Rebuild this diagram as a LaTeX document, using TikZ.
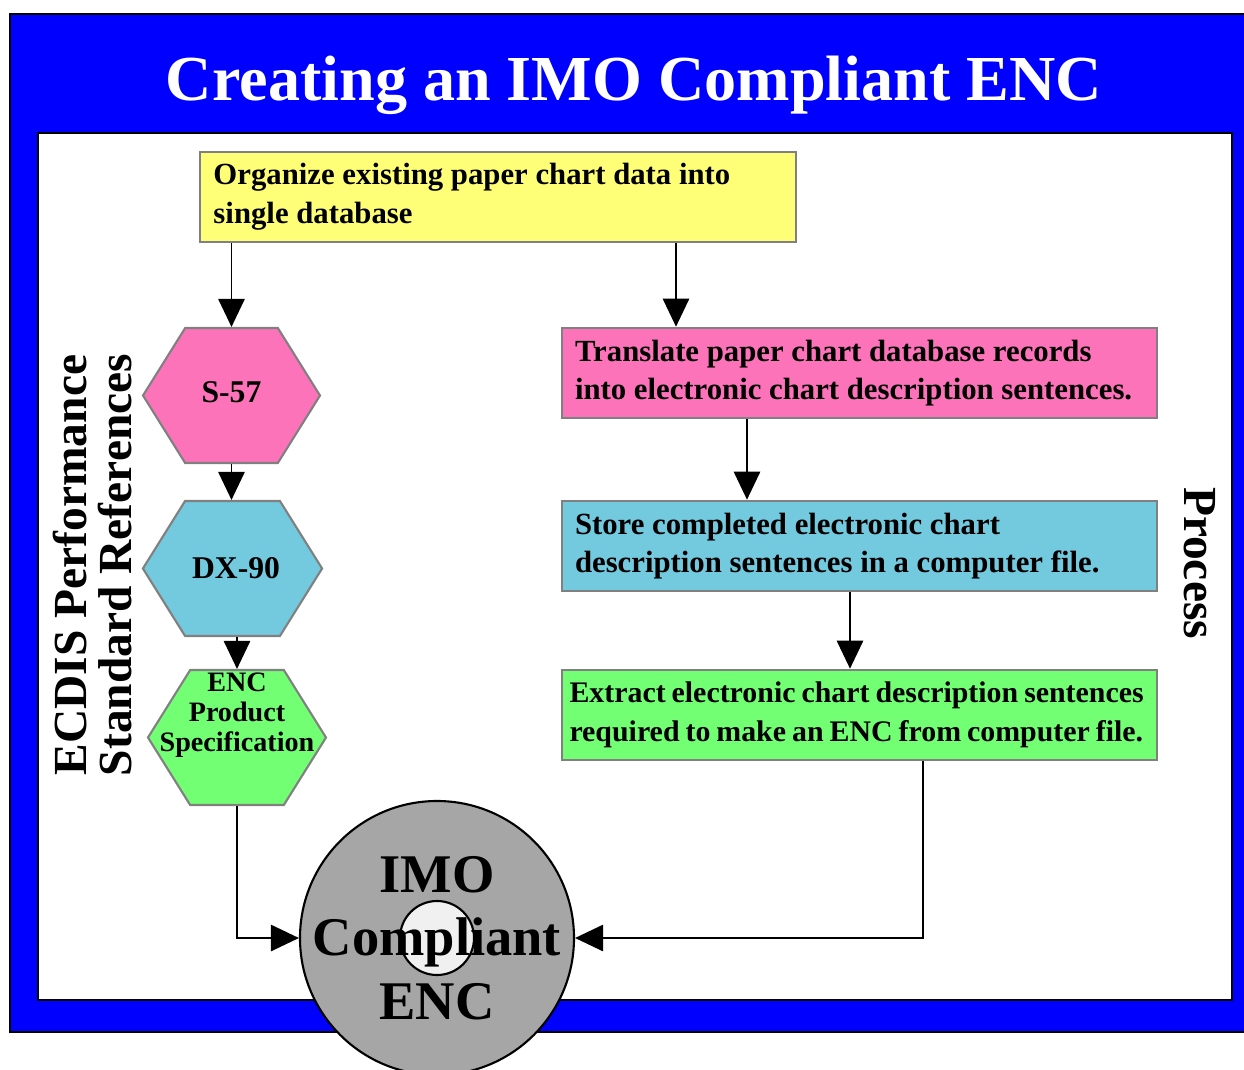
\documentclass[tikz,border=0pt]{standalone}
\usepackage{fontspec}
\setmainfont{Liberation Serif}
\usetikzlibrary{arrows.meta,shapes.symbols}

\definecolor{frameblue}{RGB}{0,0,255}
\definecolor{boxyellow}{RGB}{255,255,119}
\definecolor{boxpink}{RGB}{252,115,185}
\definecolor{boxblue}{RGB}{115,201,222}
\definecolor{boxgreen}{RGB}{115,255,115}
\definecolor{discgray}{RGB}{166,166,166}
\definecolor{holegray}{RGB}{240,240,240}
\definecolor{edgegray}{RGB}{128,128,128}

\newcommand{\nohyph}{\hyphenpenalty=10000\relax}
\newcommand{\tightspace}{\spaceskip=0.2em plus 0.05em minus 0.03em\relax\nohyph}

\tikzset{
  procbox/.style={rectangle, draw=edgegray, line width=1.5pt, minimum width=119mm, minimum height=18mm, inner xsep=2.6mm, text width=113.8mm, align=flush left, font=\bfseries\fontsize{17.5}{22}\selectfont\nohyph},
  refhex/.style={signal, signal to=west and east, signal pointer angle=116, draw=edgegray, line width=1.2pt, minimum width=35.4mm, minimum height=27mm, inner sep=0pt, font=\bfseries\fontsize{18}{20}\selectfont},
  flowarrow/.style={-{Triangle[length=16pt,width=15pt]}, line width=1.1pt},
  sidelabel/.style={align=center, font=\bfseries\fontsize{27}{25.6}\selectfont}
}

\begin{document}
\begin{tikzpicture}[x=0.2mm, y=-0.2mm]
    \useasboundingbox (0,0) rectangle (1244,1069);

    % Frame
    \draw[fill=frameblue, line width=1.5pt] (10,14) rectangle (1262,1032);
    \draw[fill=white, line width=1.5pt] (38,133) rectangle (1232,1000);
    \node[text=white, anchor=base, font=\bfseries\fontsize{36.5}{40}\selectfont] at (634, 100) (title) {Creating an IMO Compliant ENC};

    % Nodes
    \node[procbox, fill=boxyellow, minimum width=119.2mm] at (498, 197) (organize) {Organize existing paper chart data into\\single database};
    \node[procbox, fill=boxpink] at (859.5, 373) (translate) {Translate paper chart database records\\into electronic chart description sentences.};
    \node[procbox, fill=boxblue] at (859.5, 546) (store) {Store completed electronic chart\\description sentences in a computer file.};
    \node[procbox, fill=boxgreen, inner xsep=1.5mm, text width=116mm, font=\bfseries\fontsize{17}{22}\selectfont\tightspace] at (859.5, 715) (extract) {Extract electronic chart description sentences\\required to make an ENC from computer file.};

    \node[refhex, fill=boxpink] at (231.5, 395.5) (s57) {\raisebox{1.5mm}{S-57}};
    \node[refhex, fill=boxblue] at (232.5, 568.5) (dx90) {\hspace*{1.4mm}DX-90};
    \node[refhex, fill=boxgreen, minimum width=35.6mm, label={[yshift=4.4mm, align=center, font=\bfseries\fontsize{16}{17}\selectfont]center:ENC\\Product\\Specification}] at (237, 737.5) (encspec) {};

    \node[sidelabel, rotate=90] at (93, 565) (ecdis) {ECDIS Performance\\Standard References};
    \node[sidelabel, rotate=-90] at (1200, 563) (process) {Process};

    \node[circle, draw, line width=1.2pt, fill=discgray, minimum size=54.8mm, inner sep=0pt,
          path picture={\draw[line width=1.2pt, fill=holegray] (path picture bounding box.center) circle (7.4mm);},
          label={[align=center, font=\bfseries\fontsize{31}{36}\selectfont]center:IMO\\Compliant\\ENC}]
          at (437, 938) (imo) {};

    % Connectors
    \draw[flowarrow] (s57.north |- organize.south) -- (s57.north);
    \draw[flowarrow] ([xshift=-36.7mm]translate.north |- organize.south) -- ([xshift=-36.7mm]translate.north);
    \draw[flowarrow] (s57.south) -- (s57.south |- dx90.north);
    \draw[flowarrow] (encspec.north |- dx90.south) -- (encspec.north);
    \draw[flowarrow] (encspec.south) |- (imo.west);
    \draw[flowarrow] ([xshift=-22.5mm]translate.south) -- ([xshift=-22.5mm]store.north);
    \draw[flowarrow] ([xshift=-1.9mm]store.south) -- ([xshift=-1.9mm]extract.north);
    \draw[flowarrow] ([xshift=12.7mm]extract.south) |- (imo.east);

\end{tikzpicture}
\end{document}
